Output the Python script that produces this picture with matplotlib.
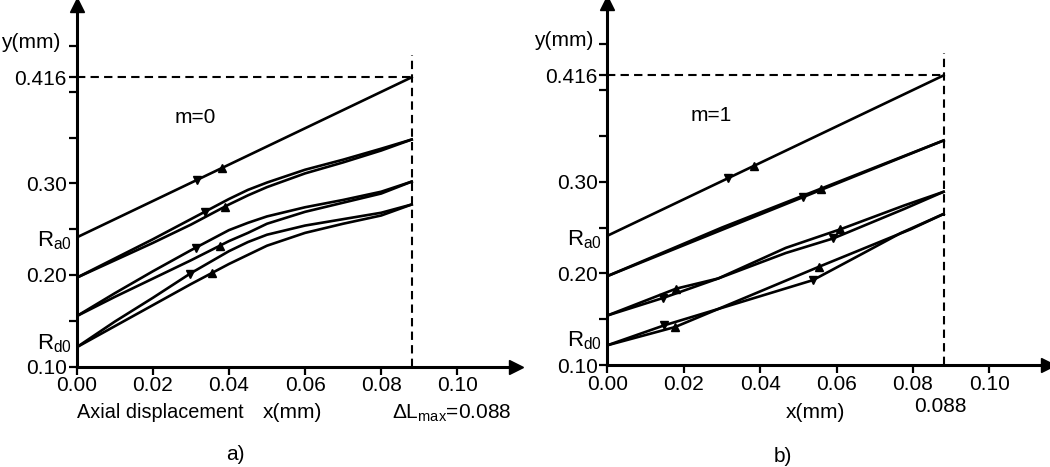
import matplotlib.pyplot as plt
import numpy as np

plt.rcParams['font.family'] = ['Liberation Sans', 'DejaVu Sans']
plt.rcParams['mathtext.fontset'] = 'custom'
plt.rcParams['mathtext.rm'] = 'Liberation Sans'

# ---- data ----
dl_max = 0.088
y_max = 0.416
x_ticks = [0.00, 0.02, 0.04, 0.06, 0.08, 0.10]
x_ticklabels = ['0.00', '0.02', '0.04', '0.06', '0.08', '0.10']
y_ticks = [0.10, 0.20, 0.30, 0.416]
y_ticklabels = ['0.10', '0.20', '0.30', '0.416']
y_minor = [0.15, 0.25, 0.35, 0.40, 0.45]

# m = 0
m0_top_x = [0.0, 0.088]
m0_top_y = [0.241, 0.416]
m0_x = [0.0, 0.01, 0.02, 0.03, 0.04, 0.045, 0.05, 0.06, 0.07, 0.08, 0.088]
m0_p2_up = [0.197, 0.218, 0.239, 0.261, 0.283, 0.293, 0.301, 0.315, 0.326, 0.338, 0.348]
m0_p2_dn = [0.197, 0.216, 0.235, 0.255, 0.277, 0.287, 0.296, 0.311, 0.323, 0.336, 0.348]
m0_p3_up = [0.155, 0.180, 0.204, 0.227, 0.249, 0.257, 0.264, 0.274, 0.282, 0.291, 0.302]
m0_p3_dn = [0.155, 0.176, 0.196, 0.216, 0.237, 0.246, 0.256, 0.269, 0.279, 0.289, 0.302]
m0_p4_up = [0.121, 0.149, 0.175, 0.202, 0.226, 0.236, 0.244, 0.254, 0.261, 0.268, 0.277]
m0_p4_dn = [0.121, 0.144, 0.167, 0.190, 0.212, 0.222, 0.232, 0.246, 0.256, 0.265, 0.277]
m0_load_x = [0.0316, 0.0337, 0.0313, 0.0297]
m0_unload_x = [0.0381, 0.0390, 0.0377, 0.0355]

# m = 1
m1_top_x = [0.0, 0.088]
m1_top_y = [0.241, 0.416]
m1_p2_x = [0.0, 0.030, 0.088]
m1_p2_up = [0.197, 0.250, 0.345]
m1_p2_dn = [0.197, 0.2475, 0.345]
m1_p3_up_x = [0.0, 0.018, 0.029, 0.0467, 0.061, 0.0777, 0.088]
m1_p3_up = [0.154, 0.1833, 0.1944, 0.2278, 0.2481, 0.2741, 0.289]
m1_p3_dn_x = [0.0, 0.0147, 0.029, 0.0467, 0.0591, 0.0777, 0.088]
m1_p3_dn = [0.154, 0.1733, 0.1944, 0.2222, 0.2381, 0.2703, 0.289]
m1_p4_up_x = [0.0, 0.0177, 0.029, 0.0555, 0.0794, 0.088]
m1_p4_up = [0.1215, 0.1414, 0.1611, 0.2074, 0.2481, 0.2648]
m1_p4_dn_x = [0.0, 0.0149, 0.029, 0.0538, 0.067, 0.0768, 0.088]
m1_p4_dn = [0.1215, 0.1433, 0.1611, 0.1926, 0.2220, 0.2440, 0.2648]
m1_top_arrows = [0.0317, 0.0383]
m1_p2_arrows = [0.0511, 0.0560]
m1_p3_arrows_dn = [0.0147, 0.0591]
m1_p3_arrows_up = [0.018, 0.061]
m1_p4_arrows_dn = [0.0149, 0.0538]
m1_p4_arrows_up = [0.0177, 0.0555]

lw = 1.9
ms = 6
fs = 15

fig = plt.figure(figsize=(10.5, 4.67), dpi=100)
axL = fig.add_axes([0.0730, 0.2152, 0.4184, 0.7741])
axR = fig.add_axes([0.5784, 0.2184, 0.4200, 0.7752])


def style(ax):
    ax.set_xlim(0, 0.1154)
    ax.set_ylim(0.1, 0.495)
    for s in ['top', 'right']:
        ax.spines[s].set_visible(False)
    for s in ['left', 'bottom']:
        ax.spines[s].set_linewidth(2.2)
    ax.set_xticks(x_ticks)
    ax.set_xticklabels(x_ticklabels)
    ax.set_yticks(y_ticks)
    ax.set_yticklabels(y_ticklabels)
    ax.set_yticks(y_minor, minor=True)
    ax.tick_params(which='both', direction='out', length=6, width=1.6,
                   labelsize=fs, pad=1)
    ax.plot(1, 0.1, '>', ms=10, color='k', transform=ax.get_yaxis_transform(),
            clip_on=False)
    ax.plot(0, 1, '^', ms=10, color='k', transform=ax.get_xaxis_transform(),
            clip_on=False)
    ax.plot([0, dl_max], [y_max, y_max], color='k', lw=1.5,
            linestyle=(0, (4, 2.5)), clip_on=False)
    ax.plot([dl_max, dl_max], [0.1, 0.44], color='k', lw=1.5,
            linestyle=(0, (4, 2.5)), clip_on=False)


def arrows(ax, xs, cx, cy, mk):
    ax.plot(xs, np.interp(xs, cx, cy), mk, color='k', ms=ms, clip_on=False)


# ---- left panel, m=0 ----
style(axL)
axL.plot(m0_top_x, m0_top_y, 'k-', lw=lw)
for cu, cd in [(m0_p2_up, m0_p2_dn), (m0_p3_up, m0_p3_dn), (m0_p4_up, m0_p4_dn)]:
    axL.plot(m0_x, cu, 'k-', lw=lw)
    axL.plot(m0_x, cd, 'k-', lw=lw)
curves_up = [(m0_top_x, m0_top_y), (m0_x, m0_p2_up), (m0_x, m0_p3_up), (m0_x, m0_p4_up)]
curves_dn = [(m0_top_x, m0_top_y), (m0_x, m0_p2_dn), (m0_x, m0_p3_dn), (m0_x, m0_p4_dn)]
for i in range(4):
    arrows(axL, [m0_load_x[i]], curves_up[i][0], curves_up[i][1], 'v')
    arrows(axL, [m0_unload_x[i]], curves_dn[i][0], curves_dn[i][1], '^')

axL.text(0.0256, 0.372, 'm=0', fontsize=fs, va='center', ha='left')
axL.text(-0.0013, 0.238, r'R$_{\mathregular{a0}}$', fontsize=16, ha='right', va='center')
axL.text(-0.0013, 0.125, r'R$_{\mathregular{d0}}$', fontsize=16, ha='right', va='center')

# ---- right panel, m=1 ----
style(axR)
axR.plot(m1_top_x, m1_top_y, 'k-', lw=lw)
axR.plot(m1_p2_x, m1_p2_up, 'k-', lw=lw)
axR.plot(m1_p2_x, m1_p2_dn, 'k-', lw=lw)
axR.plot(m1_p3_up_x, m1_p3_up, 'k-', lw=lw)
axR.plot(m1_p3_dn_x, m1_p3_dn, 'k-', lw=lw)
axR.plot(m1_p4_up_x, m1_p4_up, 'k-', lw=lw)
axR.plot(m1_p4_dn_x, m1_p4_dn, 'k-', lw=lw)
arrows(axR, [m1_top_arrows[0]], m1_top_x, m1_top_y, 'v')
arrows(axR, [m1_top_arrows[1]], m1_top_x, m1_top_y, '^')
arrows(axR, [m1_p2_arrows[0]], m1_p2_x, m1_p2_dn, 'v')
arrows(axR, [m1_p2_arrows[1]], m1_p2_x, m1_p2_up, '^')
arrows(axR, m1_p3_arrows_dn, m1_p3_dn_x, m1_p3_dn, 'v')
arrows(axR, m1_p3_arrows_up, m1_p3_up_x, m1_p3_up, '^')
arrows(axR, m1_p4_arrows_dn, m1_p4_dn_x, m1_p4_dn, 'v')
arrows(axR, m1_p4_arrows_up, m1_p4_up_x, m1_p4_up, '^')

axR.text(0.0219, 0.372, 'm=1', fontsize=fs, va='center', ha='left')
axR.text(-0.0013, 0.237, r'R$_{\mathregular{a0}}$', fontsize=16, ha='right', va='center')
axR.text(-0.0013, 0.126, r'R$_{\mathregular{d0}}$', fontsize=16, ha='right', va='center')

# ---- labels outside the axes ----
W, H = 1050.0, 467.0
fig.text(1 / W, 1 - 43 / H, 'y(mm)', fontsize=fs, ha='left', va='center')
fig.text(534 / W, 1 - 40 / H, 'y(mm)', fontsize=fs, ha='left', va='center')
fig.text(77 / W, 1 - 413 / H, 'Axial displacement', fontsize=14.3, ha='left', va='center')
fig.text(292 / W, 1 - 413 / H, 'x(mm)', fontsize=fs, ha='center', va='center')
fig.text(392 / W, 1 - 413 / H, r'$\mathregular{\Delta L_{max}}$=0.088', fontsize=fs,
         ha='left', va='center')
fig.text(235 / W, 1 - 455 / H, 'a)', fontsize=fs, ha='center', va='center')
fig.text(815 / W, 1 - 413 / H, 'x(mm)', fontsize=fs, ha='center', va='center')
fig.text(940 / W, 1 - 407 / H, '0.088', fontsize=fs, ha='center', va='center')
fig.text(783 / W, 1 - 457 / H, 'b)', fontsize=fs, ha='center', va='center')

fig.savefig('out.png', dpi=100)
